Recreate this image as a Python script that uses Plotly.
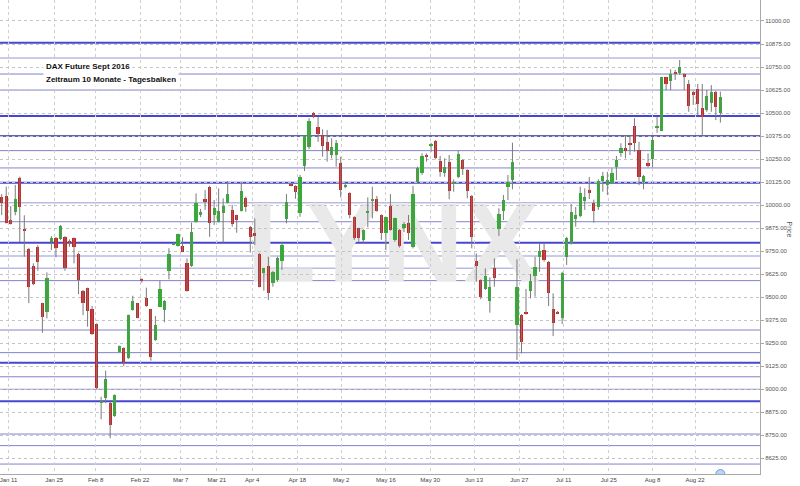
import plotly.graph_objects as go

# ---- Daily bars (DAX Future Sept 2016) ----
open_ = [10046, 10050, 9920, 9964, 10150, 9870, 9762, 9669, 9773, 9467,
         9418, 9801, 9823, 9814, 9828, 9807, 9820, 9733, 9534, 9548,
         9436, 9354, 8924, 8954, 8924, 8855, 9204, 9224, 9168, 9430,
         9467, 9599, 9497, 9434, 9267, 9448, 9430, 9644, 9787, 9778,
         9778, 9684, 9669, 9910, 9946, 10032, 10100, 9946, 9910, 9956,
         10013, 9974, 9945, 9970, 10037, 9883, 9847, 9735, 9630, 9671,
         9575, 9593, 9698, 9923, 10113, 10104, 9959, 10212, 10317, 10502,
         10423, 10381, 10344, 10272, 10272, 10227, 10102, 10067, 9937, 9874,
         9811, 9956, 10024, 10035, 9946, 9850, 9995, 9811, 9865, 9874,
         9901, 9771, 10127, 10173, 10274, 10322, 10350, 10241, 10173, 10236,
         10119, 10151, 10245, 10191, 10050, 9698, 9593, 9543, 9481, 9657,
         9869, 9970, 10100, 10136, 9349, 9403, 9418, 9535, 9615, 9717,
         9756, 9693, 9434, 9421, 9385, 9718, 9797, 9926, 9939, 10024,
         10082, 10013, 9991, 10133, 10109, 10122, 10209, 10285, 10309, 10339,
         10430, 10299, 10127, 10230, 10249, 10423, 10404, 10694, 10676, 10725,
         10719, 10712, 10658, 10616, 10629, 10526, 10517, 10556, 10616, 10502]
high = [10060, 10100, 9995, 10110, 10155, 9945, 9768, 9684, 9783, 9470,
        9635, 9832, 9827, 9892, 9832, 9814, 9825, 9742, 9539, 9552,
        9452, 9358, 8960, 9101, 8930, 8972, 9238, 9228, 9406, 9508,
        9470, 9602, 9552, 9437, 9398, 9590, 9485, 9766, 9797, 9845,
        9825, 9711, 9905, 10064, 9980, 10082, 10105, 10028, 10091, 10037,
        10131, 10001, 9948, 10127, 10046, 9887, 9928, 9740, 9660, 9720,
        9642, 9720, 9801, 10060, 10118, 10108, 10164, 10380, 10472, 10506,
        10480, 10412, 10408, 10363, 10354, 10263, 10127, 10070, 9940, 9877,
        9868, 10042, 10100, 10050, 9950, 9937, 10060, 9932, 9870, 9909,
        9946, 10104, 10209, 10281, 10281, 10339, 10354, 10267, 10254, 10272,
        10140, 10294, 10249, 10195, 10055, 9738, 9597, 9657, 9608, 9711,
        9983, 10055, 10164, 10339, 9706, 9408, 9545, 9626, 9720, 9793,
        9796, 9697, 9521, 9425, 9638, 9828, 10006, 9990, 10100, 10091,
        10153, 10030, 10140, 10181, 10181, 10200, 10267, 10336, 10381, 10381,
        10472, 10344, 10164, 10281, 10375, 10480, 10697, 10697, 10738, 10734,
        10788, 10716, 10680, 10621, 10658, 10658, 10625, 10652, 10621, 10616]
low = [9946, 9900, 9895, 9945, 9800, 9720, 9468, 9565, 9644, 9307,
       9385, 9756, 9717, 9810, 9644, 9774, 9684, 9517, 9403, 9340,
       9295, 9000, 8837, 8924, 8734, 8850, 9200, 9126, 9164, 9427,
       9385, 9579, 9448, 9155, 9263, 9445, 9364, 9597, 9783, 9775,
       9744, 9530, 9665, 9905, 9935, 9974, 9828, 9892, 9905, 9796,
       10010, 9883, 9850, 9965, 9964, 9742, 9783, 9553, 9535, 9485,
       9557, 9584, 9648, 9901, 10102, 10035, 9937, 10185, 10303, 10472,
       10344, 10263, 10236, 10254, 10209, 10042, 10091, 9928, 9811, 9801,
       9796, 9880, 9928, 9964, 9811, 9756, 9861, 9801, 9770, 9854,
       9811, 9765, 10118, 10164, 10236, 10290, 10249, 10154, 10154, 10032,
       10073, 10146, 10164, 10037, 9765, 9584, 9489, 9539, 9416, 9557,
       9832, 9919, 10028, 10086, 9159, 9195, 9405, 9494, 9503, 9638,
       9693, 9452, 9289, 9408, 9354, 9675, 9786, 9883, 9934, 9974,
       10033, 9905, 9974, 10073, 10055, 10118, 10136, 10263, 10254, 10272,
       10290, 10109, 10086, 10205, 10205, 10393, 10402, 10625, 10625, 10680,
       10707, 10625, 10507, 10544, 10489, 10381, 10507, 10507, 10462, 10448]
close = [10013, 9905, 9900, 10032, 9990, 9860, 9557, 9570, 9693, 9394,
         9603, 9823, 9765, 9888, 9657, 9793, 9771, 9593, 9467, 9427,
         9298, 9005, 8936, 9054, 8806, 8969, 9235, 9141, 9403, 9481,
         9389, 9593, 9452, 9177, 9349, 9546, 9481, 9733, 9793, 9842,
         9747, 9534, 9854, 10013, 9964, 10017, 9901, 9983, 9970, 9995,
         10059, 9898, 9919, 10078, 9991, 9828, 9832, 9557, 9657, 9524,
         9638, 9711, 9783, 10019, 10105, 10073, 10154, 10375, 10459, 10480,
         10385, 10321, 10296, 10317, 10336, 10082, 10106, 9946, 9820, 9820,
         9865, 9970, 10032, 9970, 9850, 9934, 9865, 9928, 9778, 9896,
         9847, 10060, 10200, 10267, 10263, 10327, 10254, 10181, 10205, 10078,
         10126, 10276, 10195, 10078, 9825, 9671, 9503, 9615, 9557, 9603,
         9950, 10028, 10127, 10236, 9557, 9258, 9412, 9588, 9666, 9752,
         9702, 9521, 9361, 9412, 9630, 9820, 9964, 9944, 10066, 10046,
         10066, 9970, 10133, 10158, 10136, 10176, 10245, 10309, 10296, 10327,
         10339, 10151, 10158, 10212, 10354, 10430, 10694, 10658, 10712, 10716,
         10749, 10694, 10538, 10598, 10549, 10477, 10593, 10616, 10531, 10586]

# x-axis labels (placed at the bar index where each week label sits)
tick_pos = [1.5, 11.6, 20.8, 30.6, 39.6, 47.6, 55.4, 65.4, 75.1, 85.0,
            94.8, 104.5, 114.5, 124.3, 134.3, 144.0, 153.4]
tick_labels = ["Jan 11", "Jan 25", "Feb 8", "Feb 22", "Mar 7", "Mar 21", "Apr 4",
               "Apr 18", "May 2", "May 16", "May 30", "Jun 13", "Jun 27",
               "Jul 11", "Jul 25", "Aug 8", "Aug 22"]

# price axis ticks
price_ticks = [8625, 8750, 8875, 9000, 9125, 9250, 9375, 9500, 9625, 9750,
               9875, 10000, 10125, 10250, 10375, 10500, 10625, 10750, 10875, 11000]
top_cut_tick = 11125  # label that sits just above the visible range, half cut

# horizontal support / resistance levels
levels = [10882, 10799, 10712, 10625, 10484, 10375, 10296, 10202, 10122, 10013,
          9910, 9796, 9724, 9657, 9590, 9322, 9199, 9144, 9068, 9000,
          8935, 8757, 8694, 8594]
level_kind = ["strong", "light", "mid", "mid", "strong", "dark", "mid", "mid", "strong", "light",
              "mid", "strong", "light", "light", "mid", "mid", "mid", "strong", "mid", "mid",
              "strong", "mid", "mid", "mid"]

level_style = {
    "strong": dict(color="#4646cf", width=2),
    "dark": dict(color="#30309a", width=1.5),
    "mid": dict(color="#8282cc", width=1),
    "light": dict(color="#b9b9e6", width=1.6),
}

RED = "#d41f1f"
GREEN = "#25b925"
WICK = "#7a7a7a"

n = len(close)
xs = list(range(n))

# wicks
wx, wy = [], []
for i in xs:
    wx += [i, i, None]
    wy += [low[i], high[i], None]

body_base = [min(o, c) for o, c in zip(open_, close)]
body_h = [max(abs(c - o), 7) for o, c in zip(open_, close)]
body_col = [GREEN if c >= o else RED for o, c in zip(open_, close)]

fig = go.Figure()
fig.add_trace(go.Scatter(x=wx, y=wy, mode="lines", line=dict(color=WICK, width=1),
                         hoverinfo="skip"))
fig.add_trace(go.Bar(x=xs, y=body_h, base=body_base, width=0.72,
                     marker=dict(color=body_col, line=dict(width=0))))

y_lo, y_hi = 8540, 11114

# "now" marker at the bottom edge
fig.add_trace(go.Scatter(x=[n - 1], y=[y_lo], mode="markers", cliponaxis=True,
                         marker=dict(size=9, color="#b9d5f2",
                                     line=dict(color="#6f9fd6", width=1))))

shapes = []
# watermark
shapes.append(dict(type="rect", xref="x", yref="y", x0=57, x1=116.2, y0=9560, y1=10160,
                   line=dict(width=0), fillcolor="rgba(0,0,0,0)", layer="below",
                   label=dict(text="LYNX", textposition="middle center",
                              font=dict(size=114, color="#e9e9e9",
                                        family="Liberation Sans Narrow, Arial Narrow, Liberation Sans, sans-serif",
                                        weight="bold"))))
for lv, kind in zip(levels, level_kind):
    st = level_style[kind]
    shapes.append(dict(type="line", xref="paper", yref="y", x0=0, x1=1, y0=lv, y1=lv,
                       line=dict(color=st["color"], width=st["width"]), layer="between"))

annotations = [
    dict(text="<b>DAX Future Sept 2016</b>", xref="paper", yref="paper",
         x=43 / 760, y=1 - 67 / 474, xanchor="left", yanchor="middle", showarrow=False,
         font=dict(size=8, color="#111", family="Liberation Sans, Arial, sans-serif"),
         bgcolor="white", borderpad=2),
    dict(text="<b>Zeitraum 10 Monate - Tagesbalken</b>", xref="paper", yref="paper",
         x=43 / 760, y=1 - 80 / 474, xanchor="left", yanchor="middle", showarrow=False,
         font=dict(size=8, color="#111", family="Liberation Sans, Arial, sans-serif"),
         bgcolor="white", borderpad=2),
    dict(text="Price", xref="paper", yref="paper", x=795 / 760, y=1 - 229 / 474,
         textangle=90, showarrow=False,
         font=dict(size=7, color="#555", family="Liberation Sans, Arial, sans-serif")),
    dict(text=f"{top_cut_tick:.2f}", xref="paper", yref="paper", x=1,
         y=(top_cut_tick - y_lo) / (y_hi - y_lo),
         xanchor="left", xshift=3, yanchor="middle", showarrow=False,
         font=dict(size=6, color="#555", family="Liberation Sans, Arial, sans-serif")),
]

fig.update_layout(
    width=800, height=486,
    margin=dict(l=0, r=40, t=0, b=12),
    paper_bgcolor="white", plot_bgcolor="white",
    showlegend=False, bargap=0,
    font=dict(family="Liberation Sans, Arial, sans-serif", size=6, color="#444"),
    shapes=shapes, annotations=annotations,
    xaxis=dict(range=[-0.376, 167.77], tickmode="array", tickvals=tick_pos,
               ticktext=tick_labels, tickfont=dict(size=6, color="#444"),
               ticklabeloverflow="allow",
               showgrid=True, gridcolor="#cfcfcf", griddash="dot", gridwidth=1,
               showline=True, linecolor="#a8a8a8", linewidth=1, ticks="",
               zeroline=False, fixedrange=True, automargin=False),
    yaxis=dict(side="right", range=[y_lo, y_hi], tickmode="array", tickvals=price_ticks,
               ticktext=[f"{v:.2f}" for v in price_ticks],
               tickfont=dict(size=6, color="#555"),
               showgrid=True, gridcolor="#c4c4c4", griddash="dot", gridwidth=1,
               showline=True, linecolor="#a8a8a8", linewidth=1,
               ticks="outside", ticklen=3, tickcolor="#a8a8a8",
               zeroline=False, fixedrange=True, automargin=False),
)

fig.write_html("out.html", config={"displayModeBar": False},
               post_script="document.body.style.margin='0px';")
